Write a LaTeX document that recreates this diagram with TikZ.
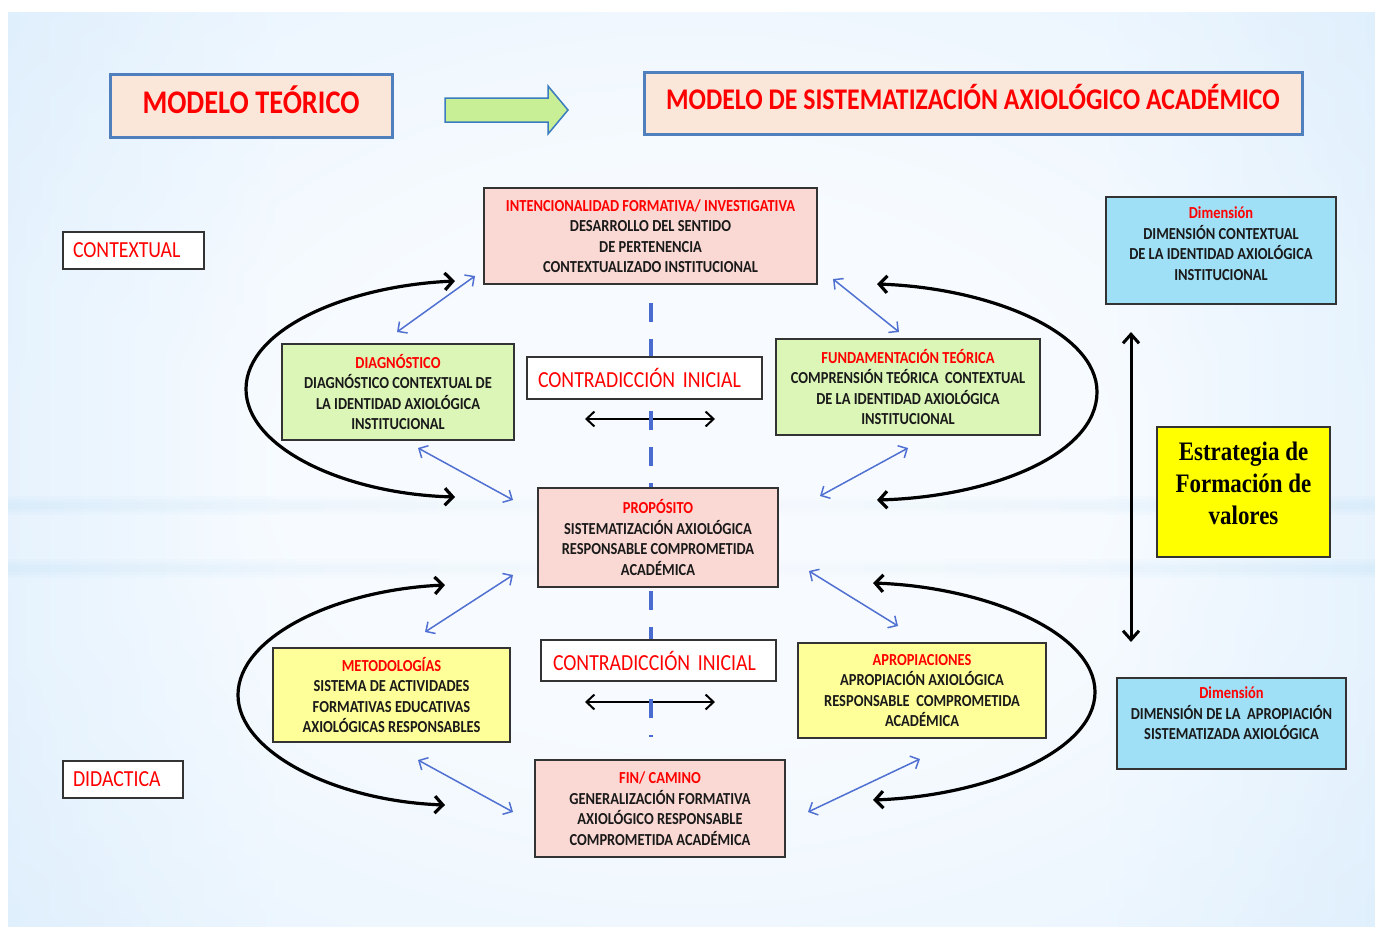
\documentclass[tikz,border=0pt]{standalone}
\usepackage{fontspec}
\setmainfont{Carlito}[FakeStretch=0.86]
\newfontfamily\serifbold{Liberation Serif}[FakeStretch=0.86]
\usetikzlibrary{arrows.meta}
\definecolor{bgc}{HTML}{F7FBFF}
\definecolor{bgm}{HTML}{D9ECFC}
\definecolor{bge}{HTML}{A0D2F6}
\definecolor{bandc}{HTML}{B9DCF7}
\definecolor{peach}{HTML}{FBE7D9}
\definecolor{hdrline}{HTML}{4F7FBD}
\definecolor{boxline}{HTML}{333333}
\definecolor{pinkf}{HTML}{FAD9D4}
\definecolor{greenf}{HTML}{DCF6B8}
\definecolor{yellowf}{HTML}{FFFF99}
\definecolor{cyanf}{HTML}{A0E0F7}
\definecolor{strongy}{HTML}{FFFF00}
\definecolor{redt}{HTML}{FF0000}
\definecolor{txt}{HTML}{1A1A1A}
\definecolor{bluea}{HTML}{5070D2}
\definecolor{dashb}{HTML}{4A6BD0}
\definecolor{arrfill}{HTML}{C8EF96}
\definecolor{arrline}{HTML}{3A7CBF}
\pgfdeclareradialshading{bgsh}{\pgfpoint{0bp}{0bp}}{color(0bp)=(bgc); color(15bp)=(bgc); color(36bp)=(bgm); color(57bp)=(bge); color(72bp)=(bge)}
\pgfdeclarehorizontalshading{sides}{100bp}{color(0bp)=(bge); color(18bp)=(bgm); color(35bp)=(bgc); color(65bp)=(bgc); color(82bp)=(bgm); color(100bp)=(bge)}
\newcommand{\fsm}{\bfseries\fontsize{16.8}{20.5}\selectfont}
\newcommand{\fhd}{\bfseries\fontsize{33}{36}\selectfont}
\newcommand{\fhdb}{\bfseries\fontsize{30}{34}\selectfont}
\newcommand{\flb}{\fontsize{23}{26}\selectfont}
\newcommand{\rt}[1]{\textcolor{redt}{#1}}
\begin{document}
\begin{tikzpicture}[x=1pt,y=-1pt,
  hdr/.style={draw=hdrline, line width=3pt, fill=peach, inner sep=0pt},
  hdrt/.style={text=redt, inner sep=0pt, align=center},
  box/.style={draw=boxline, line width=1.2pt, inner sep=0pt, align=center, text=txt, font=\fsm},
  lbl/.style={draw=boxline, line width=1.2pt, fill=white, text=redt, font=\flb, inner ysep=0pt, align=left},
  loopa/.style={line width=3.2pt, black, {Straight Barb[length=8pt,width=17pt]}-{Straight Barb[length=8pt,width=17pt]}},
  bluearr/.style={line width=1.5pt, bluea, {Straight Barb[length=7pt,width=14pt]}-{Straight Barb[length=7pt,width=14pt]}},
  harr/.style={line width=2pt, black, {Straight Barb[length=8pt,width=15pt]}-{Straight Barb[length=8pt,width=15pt]}},
  dashl/.style={line width=3.5pt, dashb, dash pattern=on 19pt off 17pt},
  band/.style={left color=bandc, right color=bandc, middle color=bgc, opacity=0.09}
]
\useasboundingbox (0,0) rectangle (1375,926);
\fill[white] (0,0) rectangle (1375,926);
\shade[shading=bgsh] (8,12) rectangle (1375,926);
\shade[shading=sides, opacity=0.5] (8,12) rectangle (1375,926);
% soft horizontal bands
\foreach \c in {505,568} {
  \shade[band] (8,\c-9) rectangle (1375,\c+9);
  \shade[band] (8,\c-6) rectangle (1375,\c+6);
  \shade[band] (8,\c-3) rectangle (1375,\c+3);
}

% headers
\node[hdr, minimum width=282pt, minimum height=63pt] (mt) at (251,105.5) {};
\node[hdrt, font=\fhd] (mtt) at (251,99.5) {MODELO TEÓRICO};
\node[hdr, minimum width=658pt, minimum height=62pt] (ms) at (973,103) {};
\node[hdrt, font=\fhdb] (mst) at (973,97) {MODELO DE SISTEMATIZACIÓN AXIOLÓGICO ACADÉMICO};
\draw[draw=arrline, line width=1.5pt, fill=arrfill] (445,98) -- (548,98) -- (548,86) -- (568,110) -- (548,134) -- (548,122) -- (445,122) -- cycle;

% horizontal double arrows
\coordinate (h1a) at (585,419); \coordinate (h1b) at (715,419);
\coordinate (h2a) at (585,702); \coordinate (h2b) at (715,702);
\draw[harr] (h1a) -- (h1b);
\draw[harr] (h2a) -- (h2b);

% dashed axis
\coordinate (dtop) at (651,303); \coordinate (dbot) at (651,737);
\draw[dashl] (dtop) -- (dbot);

% side labels
\node[lbl, minimum width=141pt, minimum height=37pt, inner xsep=10pt, text width=121pt] (ctx) at (133.5,250.5) {CONTEXTUAL};
\node[lbl, minimum width=120pt, minimum height=37pt, inner xsep=10pt, text width=100pt] (did) at (123,779.5) {DIDACTICA};
\node[lbl, minimum width=235pt, minimum height=42pt, inner xsep=11pt, text width=213pt] (c1) at (644.5,378) {CONTRADICCIÓN INICIAL};
\node[lbl, minimum width=235pt, minimum height=41pt, inner xsep=12pt, text width=211pt] (c2) at (658.5,660.5) {CONTRADICCIÓN INICIAL};

% central boxes
\node[box, fill=pinkf, minimum width=333pt, minimum height=96pt] (int) at (650.5,236)
  {\rt{INTENCIONALIDAD FORMATIVA/ INVESTIGATIVA}\\DESARROLLO DEL SENTIDO\\DE PERTENENCIA\\CONTEXTUALIZADO INSTITUCIONAL};
\node[box, fill=greenf, minimum width=232pt, minimum height=96pt] (diag) at (398,392)
  {\rt{DIAGNÓSTICO}\\DIAGNÓSTICO CONTEXTUAL DE\\LA IDENTIDAD AXIOLÓGICA\\INSTITUCIONAL};
\node[box, fill=greenf, minimum width=264pt, minimum height=96pt] (fund) at (908,387)
  {\rt{FUNDAMENTACIÓN TEÓRICA}\\COMPRENSIÓN TEÓRICA\ \ CONTEXTUAL\\DE LA IDENTIDAD AXIOLÓGICA\\INSTITUCIONAL};
\node[box, fill=pinkf, minimum width=240pt, minimum height=99pt] (prop) at (658,537.5)
  {\rt{PROPÓSITO}\\SISTEMATIZACIÓN AXIOLÓGICA\\RESPONSABLE COMPROMETIDA\\ACADÉMICA};
\node[box, fill=yellowf, minimum width=237pt, minimum height=94pt] (met) at (391.5,695)
  {\rt{METODOLOGÍAS}\\SISTEMA DE ACTIVIDADES\\FORMATIVAS EDUCATIVAS\\AXIOLÓGICAS RESPONSABLES};
\node[box, fill=yellowf, minimum width=248pt, minimum height=95pt] (apr) at (922,690.5)
  {\rt{APROPIACIONES}\\APROPIACIÓN AXIOLÓGICA\\RESPONSABLE\ \ COMPROMETIDA\\ACADÉMICA};
\node[box, fill=pinkf, minimum width=250pt, minimum height=97pt] (fin) at (660,808.5)
  {\rt{FIN/ CAMINO}\\GENERALIZACIÓN FORMATIVA\\AXIOLÓGICO RESPONSABLE\\COMPROMETIDA ACADÉMICA};

% right column
\node[box, fill=cyanf, minimum width=230pt, minimum height=107pt] (dim1) at (1221,250.5) {};
\node[text=txt, font=\fsm, align=center, inner sep=0pt] (dim1t) at (1221,243.5)
  {\rt{Dimensión}\\DIMENSIÓN CONTEXTUAL\\DE LA IDENTIDAD AXIOLÓGICA\\INSTITUCIONAL};
\node[box, fill=cyanf, minimum width=229pt, minimum height=91pt] (dim2) at (1231.5,723.5) {};
\node[text=txt, font=\fsm, align=center, inner sep=0pt] (dim2t) at (1231.5,713.5)
  {\rt{Dimensión}\\DIMENSIÓN DE LA\ \ APROPIACIÓN\\SISTEMATIZADA AXIOLÓGICA};
\node[box, fill=strongy, minimum width=173pt, minimum height=130pt] (est) at (1243.5,492) {};
\node[text=black, font={\serifbold\bfseries\fontsize{26.7}{32}\selectfont}, align=center, inner sep=0pt] (estt) at (1243.5,483)
  {Estrategia de\\Formación de\\valores};
\coordinate (va) at (1131,332); \coordinate (vb) at (1131,642);
\draw[line width=3pt, black, {Straight Barb[length=9pt,width=16pt]}-{Straight Barb[length=9pt,width=16pt]}] (va) -- (vb);

% black loops
\coordinate (l1a) at (455,281); \coordinate (l1b) at (455,497);
\draw[loopa] (l1a) .. controls (345,286) and (246,330) .. (246,389) .. controls (246,448) and (345,494) .. (l1b);
\coordinate (l2a) at (877,284); \coordinate (l2b) at (877,500);
\draw[loopa] (l2a) .. controls (990,288) and (1097,332) .. (1097,392) .. controls (1097,455) and (990,497) .. (l2b);
\coordinate (l3a) at (445,585); \coordinate (l3b) at (445,805);
\draw[loopa] (l3a) .. controls (335,590) and (238,637) .. (238,695) .. controls (238,752) and (335,801) .. (l3b);
\coordinate (l4a) at (873,583); \coordinate (l4b) at (873,800);
\draw[loopa] (l4a) .. controls (985,587) and (1095,632) .. (1095,692) .. controls (1095,752) and (985,796) .. (l4b);

% blue double arrows
\coordinate (b1a) at (397,332); \coordinate (b1b) at (475,276);
\coordinate (b2a) at (418,448); \coordinate (b2b) at (513,500);
\coordinate (b3a) at (833,279); \coordinate (b3b) at (899,332);
\coordinate (b4a) at (908,448); \coordinate (b4b) at (820,496);
\coordinate (b5a) at (425,632); \coordinate (b5b) at (513,575);
\coordinate (b6a) at (418,760); \coordinate (b6b) at (513,812);
\coordinate (b7a) at (809,571); \coordinate (b7b) at (898,626);
\coordinate (b8a) at (920,759); \coordinate (b8b) at (808,812);
\foreach \i in {1,...,8} {\draw[bluearr] (b\i a) -- (b\i b);}
\end{tikzpicture}
\end{document}
